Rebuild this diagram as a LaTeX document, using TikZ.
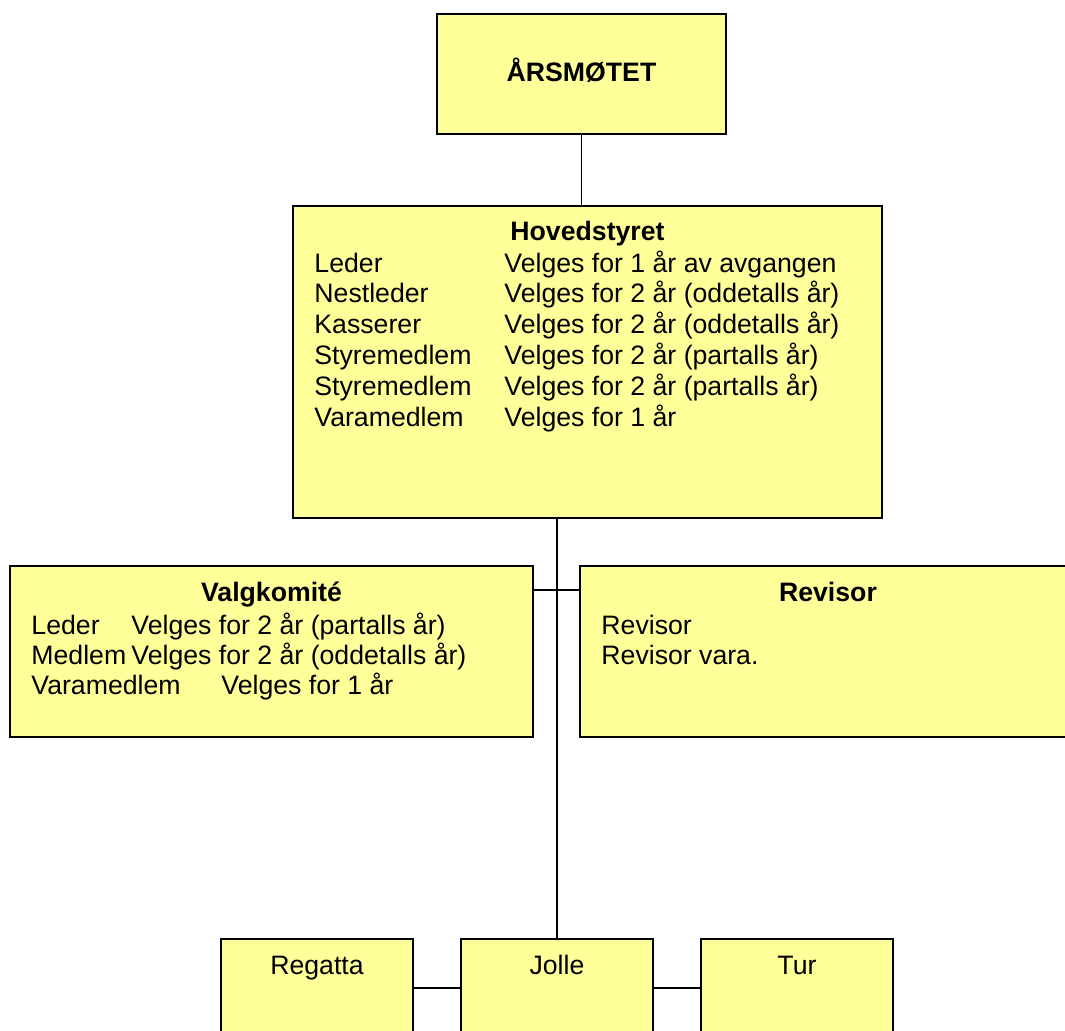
\documentclass[tikz,border=0pt]{standalone}
\usepackage{fontspec}
\setmainfont{Liberation Sans}
\usetikzlibrary{positioning}

\definecolor{boxyellow}{RGB}{255,255,153}

\tikzset{
  box/.style={draw, line width=0.9pt, fill=boxyellow, inner sep=0pt, outer sep=0pt},
  link/.style={line width=0.75pt},
  txt/.style={inner sep=0pt, anchor=base west, font=\fontsize{12}{13.8}\selectfont},
  title/.style={inner sep=0pt, anchor=base, font=\fontsize{12}{13.8}\selectfont\bfseries}
}

\begin{document}
\begin{tikzpicture}[x=0.45pt, y=-0.45pt, node distance=21.6pt]
\useasboundingbox (0,0) rectangle (1065,1030);

\node[box, minimum width=130.05pt, minimum height=54pt] (aars) at (581.5,74) {};
\node[box, minimum width=265.05pt, minimum height=140.4pt] (hoved) at (587.5,362) {};
\node[box, minimum width=235.35pt, minimum height=76.95pt] (valg) at (271.5,651.5) {};
\node[box, minimum width=223.2pt, minimum height=76.95pt] (rev) at (828,651.5) {};
\node[box, minimum width=86.4pt, minimum height=63pt] (jolle) at (557,1009) {};
\node[box, minimum width=86.4pt, minimum height=63pt] (regatta) [left=of jolle] {};
\node[box, minimum width=86.4pt, minimum height=63pt] (tur) [right=of jolle] {};

\draw[link] (aars.south) -- (aars.south |- hoved.north);
\draw[link] (jolle.north |- hoved.south) -- (jolle.north);
\draw[link] ([yshift=-10.8pt]valg.north east) -- ([yshift=-10.8pt]rev.north west);
\draw[link] ([yshift=-22.05pt]regatta.north east) -- ([yshift=-22.05pt]jolle.north west);
\draw[link] ([yshift=-22.05pt]jolle.north east) -- ([yshift=-22.05pt]tur.north west);

\node[title] (taars) at (581.5,81) {ÅRSMØTET};

\node[title] (thoved) at (587.5,240) {Hovedstyret};
\foreach \rolle/\tekst [count=\i] in {Leder/{Velges for 1 år av avgangen},
    Nestleder/{Velges for 2 år (oddetalls år)}, Kasserer/{Velges for 2 år (oddetalls år)},
    Styremedlem/{Velges for 2 år (partalls år)}, Styremedlem/{Velges for 2 år (partalls år)},
    Varamedlem/{Velges for 1 år}}
{
  \node[txt] (hr\i) at (314,{272+30.8*(\i-1)}) {\rolle};
  \node[txt] (ht\i) at (504,{272+30.8*(\i-1)}) {\tekst};
}

\node[title] (tvalg) at (271.5,601) {Valgkomité};
\foreach \rolle/\tekst/\xpos [count=\i] in {Leder/{Velges for 2 år (partalls år)}/131,
    Medlem/{Velges for 2 år (oddetalls år)}/131, Varamedlem/{Velges for 1 år}/221}
{
  \node[txt] (vr\i) at (31,{634+30*(\i-1)}) {\rolle};
  \node[txt] (vt\i) at (\xpos,{634+30*(\i-1)}) {\tekst};
}

\node[title] (trev) at (828,601) {Revisor};
\node[txt] (rv1) at (601,634) {Revisor};
\node[txt] (rv2) at (601,664) {Revisor vara.};

\foreach \n/\t in {regatta/Regatta, jolle/Jolle, tur/Tur}
  \node[txt, anchor=base] (t\n) at ([yshift=-15.75pt]\n.north) {\t};
\end{tikzpicture}
\end{document}
